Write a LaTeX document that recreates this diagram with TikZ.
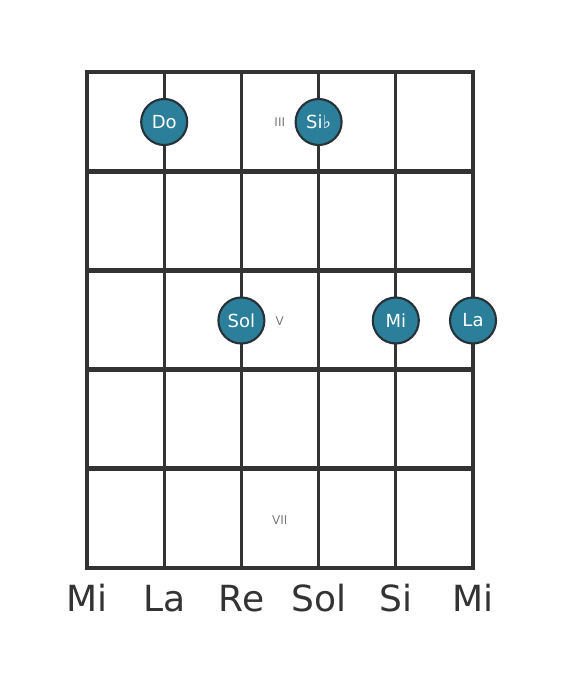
\documentclass[tikz,border=0pt]{standalone}
\usepackage{fontspec}
\setmainfont{DejaVu Sans}
\definecolor{gridc}{HTML}{333333}
\definecolor{dotfill}{HTML}{2B7F9A}
\definecolor{dotline}{HTML}{263238}
\definecolor{numc}{HTML}{7A7A7A}
\begin{document}
\begin{tikzpicture}[x=0.75pt,y=-0.75pt,
  fret/.style={draw=gridc,line width=3.6pt,line cap=rect},
  stringl/.style={draw=gridc,line width=2.3pt},
  dot/.style={circle,fill=dotfill,draw=dotline,line width=1.6pt,minimum size=34.5pt,inner sep=0pt,text=white,font=\fontsize{13.5}{13.5}\selectfont},
  roman/.style={text=numc,font=\fontsize{9}{9}\selectfont},
  sname/.style={text=gridc,font=\fontsize{27}{27}\selectfont,anchor=base}]
\useasboundingbox (0,0) rectangle (568,682);
% strings
\foreach \x [count=\i] in {87,164.2,241.4,318.6,395.8,473}{
  \coordinate (st\i) at (\x,72);
  \coordinate (sb\i) at (\x,568);
  \draw[stringl] (st\i) -- (sb\i);
}
% frets
\foreach \y [count=\j] in {72,171.2,270.4,369.6,468.8,568}{
  \coordinate (fl\j) at (87,\y);
  \coordinate (fr\j) at (473,\y);
  \draw[fret] (fl\j) -- (fr\j);
}
% roman numerals
\node[roman] (r3) at (279.8,122.5) {III};
\node[roman] (r5) at (279.8,321.5) {V};
\node[roman] (r7) at (279.8,520.5) {VII};
% dots
\node[dot] (do) at (164.2,122) {Do};
\node[dot] (sib) at (318.6,122) {Si♭};
\node[dot] (sol) at (241.4,320.5) {Sol};
\node[dot] (mi) at (395.8,320.5) {Mi};
\node[dot] (la) at (473,320.5) {La};
% string names
\node[sname] (n1) at (87,611) {Mi};
\node[sname] (n2) at (164.2,611) {La};
\node[sname] (n3) at (241.4,611) {Re};
\node[sname] (n4) at (318.6,611) {Sol};
\node[sname] (n5) at (395.8,611) {Si};
\node[sname] (n6) at (473,611) {Mi};
\end{tikzpicture}
\end{document}
